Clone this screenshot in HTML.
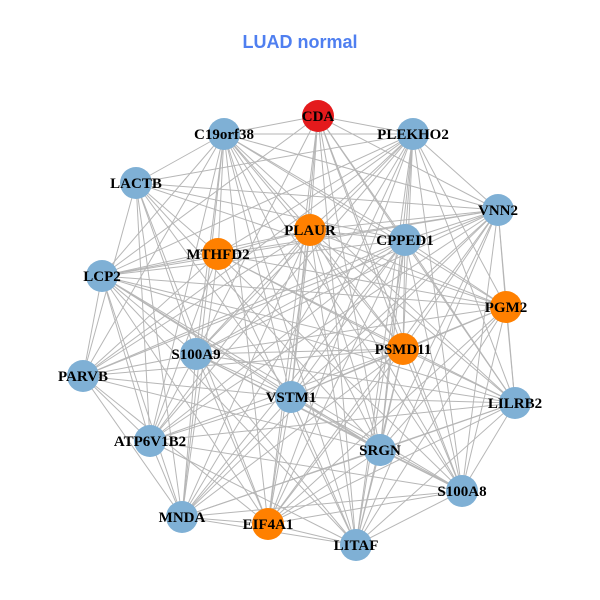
<!DOCTYPE html>
<html><head><meta charset="utf-8"><style>
html,body{margin:0;padding:0;background:#fff;width:600px;height:600px;overflow:hidden}
svg text{font-family:"Liberation Serif",serif;font-weight:bold;font-size:15px;fill:#000}
</style></head><body>
<svg id="g" width="600" height="600" xmlns="http://www.w3.org/2000/svg">
<text x="300" y="48" text-anchor="middle" style="font-family:'Liberation Sans',sans-serif;font-size:18px;fill:#4f7ff0">LUAD normal</text>
<g id="e" stroke="#aaaaaa" stroke-width="1" opacity="0.85"></g>
<g id="n"></g>
</svg>
<script>
var N=[["CDA",318,116,"#e41a1c"],["C19orf38",224,134,"b"],["PLEKHO2",413,134,"b"],["LACTB",136,183,"b"],["VNN2",498,210,"b"],["PLAUR",310,230,"o"],["MTHFD2",218,254,"o"],["CPPED1",405,240,"b"],["LCP2",102,276,"b"],["PGM2",506,307,"o"],["S100A9",196,354,"b"],["PSMD11",403,349,"o"],["PARVB",83,376,"b"],["VSTM1",291,397,"b"],["LILRB2",515,403,"b"],["ATP6V1B2",150,441,"b"],["SRGN",380,450,"b"],["S100A8",462,491,"b"],["MNDA",182,517,"b"],["EIF4A1",268,524,"o"],["LITAF",356,545,"b"]];
var ns="http://www.w3.org/2000/svg",e=document.getElementById("e"),g=document.getElementById("n");
for(var i=0;i<N.length;i++)for(var j=i+1;j<N.length;j++){if((i*7+j*3)%9==0)continue;var l=document.createElementNS(ns,"line");l.setAttribute("x1",N[i][1]);l.setAttribute("y1",N[i][2]);l.setAttribute("x2",N[j][1]);l.setAttribute("y2",N[j][2]);e.appendChild(l);}
N.forEach(function(d){var c=document.createElementNS(ns,"circle");c.setAttribute("cx",d[1]);c.setAttribute("cy",d[2]);c.setAttribute("r",16);c.setAttribute("fill",d[3]=="b"?"#7fb0d5":d[3]=="o"?"#ff8000":d[3]);g.appendChild(c);});
N.forEach(function(d){var t=document.createElementNS(ns,"text");t.setAttribute("x",d[1]);t.setAttribute("y",d[2]+5);t.setAttribute("text-anchor","middle");t.textContent=d[0];g.appendChild(t);});
</script>
</body></html>
